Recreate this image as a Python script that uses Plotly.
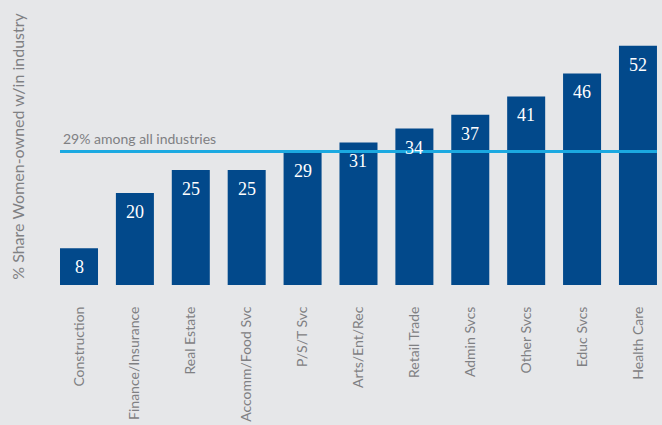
import plotly.graph_objects as go

categories = ["Construction", "Finance/Insurance", "Real Estate", "Accomm/Food Svc",
              "P/S/T Svc", "Arts/Ent/Rec", "Retail Trade", "Admin Svcs",
              "Other Svcs", "Educ Svcs", "Health Care"]
values = [8, 20, 25, 25, 29, 31, 34, 37, 41, 46, 52]
avg_value = 29
avg_label = "29% among all industries"
y_title = "% Share Women-owned w/in industry"

bg = "#e6e7e9"
bar_color = "#02498b"
line_color = "#1ba9e1"
grey = "#7f8083"

x_idx = list(range(len(categories)))

fig = go.Figure()
fig.add_trace(go.Bar(
    x=x_idx, y=values, width=0.68,
    marker=dict(color=bar_color, line=dict(width=0)),
    hoverinfo="skip",
))
for i, v in zip(x_idx, values):
    fig.add_annotation(x=i, y=v, xref="x", yref="y", text=str(v), showarrow=False,
                       yanchor="top", yshift=-7,
                       font=dict(family="Liberation Serif", size=18, color="white"))

fig.add_shape(type="line", xref="x", yref="y", x0=-0.34, x1=10.34,
              y0=avg_value, y1=avg_value, line=dict(color=line_color, width=3), layer="above")
fig.add_annotation(x=-0.33, y=avg_value, xref="x", yref="y", text=avg_label, showarrow=False,
                   xanchor="left", yanchor="bottom", yshift=3,
                   font=dict(family="Lato", size=14, color=grey))
fig.add_annotation(x=-42/602, y=0.485, xref="paper", yref="paper", text=y_title, showarrow=False,
                   textangle=-90, xanchor="center", yanchor="middle",
                   font=dict(family="Lato", size=16, color=grey))

fig.update_layout(
    width=662, height=425,
    margin=dict(l=60, r=0, t=0, b=140, autoexpand=False),
    paper_bgcolor=bg, plot_bgcolor=bg,
    showlegend=False,
    xaxis=dict(range=[-0.34, 10.43], tickmode="array", tickvals=x_idx, ticktext=categories,
               tickangle=-90, showgrid=False, zeroline=False, showline=False,
               ticks="outside", ticklen=15, tickcolor=bg,
               tickfont=dict(family="Lato", size=14, color=grey), automargin=False),
    yaxis=dict(range=[0, 61.96], showgrid=False, zeroline=False, showline=False,
               showticklabels=False, automargin=False),
)
fig.write_html("out.html", config={"displayModeBar": False},
               post_script="document.body.style.margin='0';document.body.style.overflow='hidden';")
